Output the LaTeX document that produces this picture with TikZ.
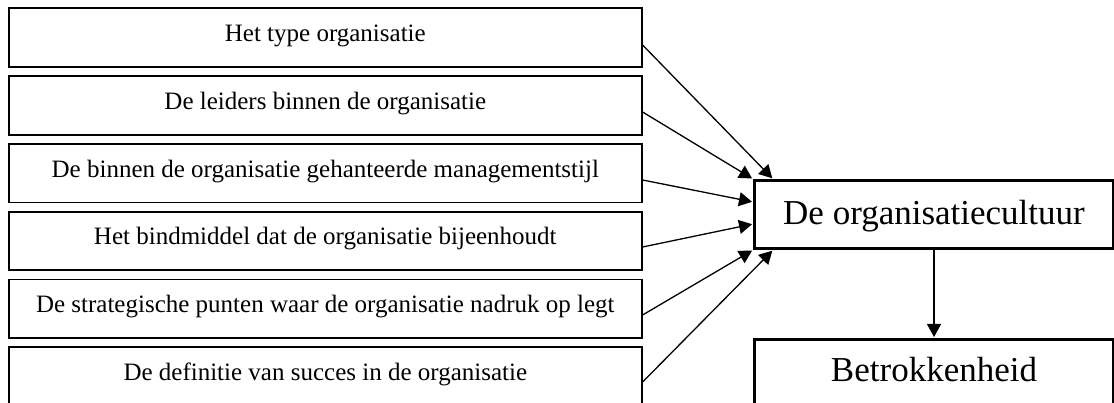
\documentclass[tikz,border=0pt]{standalone}
\usepackage{fontspec}
\setmainfont{Liberation Serif}
\usetikzlibrary{arrows.meta}
\begin{document}
\begin{tikzpicture}[x=1pt,y=-1pt,
  factor/.style={draw, line width=1.6pt, anchor=north west, inner ysep=0pt, inner xsep=0pt,
    minimum width=633pt, text height=33pt, text depth=25.5pt, align=center,
    font=\fontsize{25}{28}\selectfont},
  bigbox/.style={draw, line width=3pt, anchor=north west, inner ysep=0pt, inner xsep=0pt,
    minimum width=359pt, font=\fontsize{35}{40}\selectfont},
  arr/.style={line width=1.3pt, -{Triangle[length=13pt,width=14pt]}, shorten >=1pt}
]
\useasboundingbox (0,0) rectangle (1114,403);
\node[factor] (b1) at (8,7.5)   {Het type organisatie};
\node[factor] (b2) at (8,75.5)  {De leiders binnen de organisatie};
\node[factor] (b3) at (8,143.3) {De binnen de organisatie gehanteerde managementstijl};
\node[factor] (b4) at (8,211)   {Het bindmiddel dat de organisatie bijeenhoudt};
\node[factor] (b5) at (8,278.8) {De strategische punten waar de organisatie nadruk op legt};
\node[factor] (b6) at (8,346.5) {De definitie van succes in de organisatie};
\node[bigbox, text height=44pt, text depth=24pt] (cult) at (753,179) {De organisatiecultuur};
\node[bigbox, text height=42pt, text depth=26pt] (bet) at (753,338) {Betrokkenheid};
\draw[arr] ([yshift=-37.5pt]b1.north east) -- ([xshift=20pt]cult.north west);
\draw[arr] ([yshift=-36.5pt]b2.north east) -- (cult.north west);
\draw[arr] ([yshift=-36.7pt]b3.north east) -- ([yshift=-23pt]cult.north west);
\draw[arr] ([yshift=-36pt]b4.north east) -- ([yshift=-45pt]cult.north west);
\draw[arr] ([yshift=-36.2pt]b5.north east) -- (cult.south west);
\draw[arr] ([yshift=-35.5pt]b6.north east) -- ([xshift=20pt]cult.south west);
\draw[arr] (cult.south) -- (bet.north);
\end{tikzpicture}
\end{document}
